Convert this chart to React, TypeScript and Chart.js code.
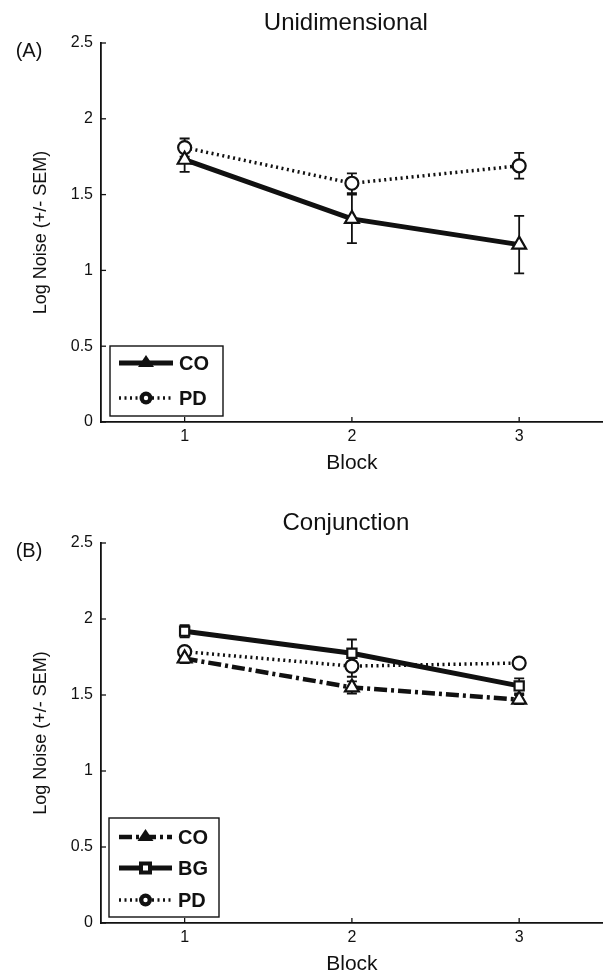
import React, { useEffect, useRef } from 'react';
import { Chart, registerables } from 'chart.js';

Chart.register(...registerables);

// ---------- data ----------
const blocks = [1, 2, 3];
const xTickValues = [1, 2, 3];
const yMin = 0;
const yMax = 2.5;
const yStep = 0.5;

const uniCO = [1.73, 1.34, 1.17];
const uniCOErr = [0.08, 0.16, 0.19];
const uniPD = [1.81, 1.575, 1.69];
const uniPDErr = [0.06, 0.065, 0.085];

const conjCO = [1.74, 1.55, 1.47];
const conjCOErr = [0.03, 0.04, 0.03];
const conjBG = [1.92, 1.775, 1.56];
const conjBGErr = [0.04, 0.09, 0.05];
const conjPD = [1.785, 1.69, 1.71];
const conjPDErr = [0.03, 0.07, 0.03];

// ---------- styles ----------
const FONT = '"Liberation Sans", Arial, Helvetica, sans-serif';
const INK = '#111111';
const W = 605;
const CW = 613; // canvas a bit wider than the page; the overflow is clipped
const H = 487;

type Series = {
  label: string;
  values: number[];
  errors: number[];
  dash: number[];
  width: number;
  pointStyle: 'triangle' | 'circle' | 'rect';
  radius: number;
};

type Panel = {
  title: string;
  tag: string;
  top: number;
  bottom: number;
  series: Series[];
  legendBox: [number, number, number, number];
  legendRows: number[];
  legendLine: [number, number];
  legendText: number;
};

const SOLID: number[] = [];
const DOTTED = [2, 3.5];
const DASHDOT = [13, 4, 3, 4];

const panels: Panel[] = [
  {
    title: 'Unidimensional',
    tag: '(A)',
    top: 43,
    bottom: 422,
    series: [
      { label: 'CO', values: uniCO, errors: uniCOErr, dash: SOLID, width: 5, pointStyle: 'triangle', radius: 8 },
      { label: 'PD', values: uniPD, errors: uniPDErr, dash: DOTTED, width: 3.5, pointStyle: 'circle', radius: 6.5 },
    ],
    legendBox: [110, 346, 223, 416],
    legendRows: [363, 398],
    legendLine: [119, 173],
    legendText: 179,
  },
  {
    title: 'Conjunction',
    tag: '(B)',
    top: 56,
    bottom: 436,
    series: [
      { label: 'CO', values: conjCO, errors: conjCOErr, dash: DASHDOT, width: 4.5, pointStyle: 'triangle', radius: 8 },
      { label: 'BG', values: conjBG, errors: conjBGErr, dash: SOLID, width: 5, pointStyle: 'rect', radius: 6.5 },
      { label: 'PD', values: conjPD, errors: conjPDErr, dash: DOTTED, width: 3.5, pointStyle: 'circle', radius: 6.5 },
    ],
    legendBox: [109, 331, 219, 430],
    legendRows: [350, 381, 413],
    legendLine: [119, 172],
    legendText: 178,
  },
];

function drawLegendMarker(ctx: CanvasRenderingContext2D, style: string, x: number, y: number) {
  ctx.save();
  ctx.setLineDash([]);
  ctx.fillStyle = INK;
  if (style === 'triangle') {
    ctx.beginPath();
    ctx.moveTo(x, y - 8);
    ctx.lineTo(x + 8, y + 4);
    ctx.lineTo(x - 8, y + 4);
    ctx.closePath();
    ctx.fill();
  } else if (style === 'circle') {
    ctx.beginPath();
    ctx.arc(x, y, 6.5, 0, Math.PI * 2);
    ctx.fill();
    ctx.fillStyle = '#fff';
    ctx.beginPath();
    ctx.arc(x, y, 2.2, 0, Math.PI * 2);
    ctx.fill();
  } else {
    ctx.fillRect(x - 6.5, y - 6.5, 13, 13);
    ctx.fillStyle = '#fff';
    ctx.fillRect(x - 2.5, y - 2.5, 5, 5);
  }
  ctx.restore();
}

function makeDecor(p: Panel) {
  return {
    id: 'decor',
    beforeDatasetsDraw(chart: any) {
      const ctx: CanvasRenderingContext2D = chart.ctx;
      const xs = chart.scales.x;
      const ys = chart.scales.y;
      ctx.save();
      ctx.strokeStyle = INK;
      ctx.lineWidth = 1.8;
      ctx.setLineDash([]);
      p.series.forEach((s) => {
        s.values.forEach((v, i) => {
          const e = s.errors[i];
          const x = xs.getPixelForValue(blocks[i]);
          const y1 = ys.getPixelForValue(v - e);
          const y2 = ys.getPixelForValue(v + e);
          ctx.beginPath();
          ctx.moveTo(x, y1);
          ctx.lineTo(x, y2);
          ctx.moveTo(x - 5, y1);
          ctx.lineTo(x + 5, y1);
          ctx.moveTo(x - 5, y2);
          ctx.lineTo(x + 5, y2);
          ctx.stroke();
        });
      });
      ctx.restore();
    },
    afterDraw(chart: any) {
      const ctx: CanvasRenderingContext2D = chart.ctx;
      const xs = chart.scales.x;
      const ys = chart.scales.y;
      const area = chart.chartArea;
      ctx.save();
      // inward ticks
      ctx.strokeStyle = INK;
      ctx.lineWidth = 1.3;
      ctx.setLineDash([]);
      xs.ticks.forEach((t: any) => {
        const x = xs.getPixelForValue(t.value);
        ctx.beginPath();
        ctx.moveTo(x, area.bottom);
        ctx.lineTo(x, area.bottom - 5);
        ctx.stroke();
      });
      ys.ticks.forEach((t: any) => {
        const y = ys.getPixelForValue(t.value);
        ctx.beginPath();
        ctx.moveTo(area.left, y);
        ctx.lineTo(area.left + 5, y);
        ctx.stroke();
      });

      // titles and labels
      const mid = (area.left + area.right) / 2;
      ctx.fillStyle = INK;
      ctx.textAlign = 'center';
      ctx.textBaseline = 'middle';
      ctx.font = `24px ${FONT}`;
      ctx.fillText(p.title, mid - 6, p.top - 20);
      ctx.font = `20px ${FONT}`;
      ctx.fillText(p.tag, 29, p.top + 8);
      ctx.font = `21px ${FONT}`;
      ctx.fillText('Block', mid, area.bottom + 41);
      ctx.save();
      ctx.translate(41, (area.top + area.bottom) / 2);
      ctx.rotate(-Math.PI / 2);
      ctx.font = `18px ${FONT}`;
      ctx.fillText('Log Noise (+/- SEM)', 0, 0);
      ctx.restore();

      // legend
      const [bx0, by0, bx1, by1] = p.legendBox;
      ctx.fillStyle = '#fff';
      ctx.fillRect(bx0, by0, bx1 - bx0, by1 - by0);
      ctx.strokeStyle = INK;
      ctx.lineWidth = 1.4;
      ctx.strokeRect(bx0, by0, bx1 - bx0, by1 - by0);
      p.series.forEach((s, i) => {
        const y = p.legendRows[i];
        const [lx0, lx1] = p.legendLine;
        ctx.save();
        ctx.strokeStyle = INK;
        ctx.lineWidth = s.width;
        ctx.setLineDash(s.dash);
        ctx.beginPath();
        ctx.moveTo(lx0, y);
        ctx.lineTo(lx1, y);
        ctx.stroke();
        ctx.restore();
        drawLegendMarker(ctx, s.pointStyle, (lx0 + lx1) / 2, y);
        ctx.fillStyle = INK;
        ctx.textAlign = 'left';
        ctx.textBaseline = 'middle';
        ctx.font = `bold 20px ${FONT}`;
        ctx.fillText(s.label, p.legendText, y + 1);
      });
      ctx.restore();
    },
  };
}

function PanelChart({ panel }: { panel: Panel }) {
  const ref = useRef<HTMLCanvasElement | null>(null);
  useEffect(() => {
    if (!ref.current) return;
    document.body.style.margin = '0';
    const datasets = panel.series.map((s, i) => ({
      label: s.label,
      data: blocks.map((b, j) => ({ x: b, y: s.values[j] })),
      borderColor: INK,
      borderWidth: s.width,
      borderDash: s.dash,
      pointStyle: s.pointStyle,
      pointRadius: s.radius,
      pointBackgroundColor: '#ffffff',
      pointBorderColor: INK,
      pointBorderWidth: 2.2,
      fill: false,
      tension: 0,
      order: s.dash.length === 0 ? 0 : i + 1,
    }));
    const chart = new Chart(ref.current, {
      type: 'line',
      data: { datasets },
      plugins: [makeDecor(panel)],
      options: {
        animation: false,
        responsive: false,
        maintainAspectRatio: false,
        events: [],
        layout: { padding: { top: panel.top, right: 0, left: 0, bottom: 0 } },
        plugins: { legend: { display: false }, title: { display: false }, tooltip: { enabled: false } },
        scales: {
          x: {
            type: 'linear',
            min: 0.5,
            max: 3.5,
            afterBuildTicks: (s: any) => {
              s.ticks = xTickValues.map((v) => ({ value: v }));
            },
            afterFit: (s: any) => {
              s.height = H - panel.bottom;
            },
            grid: { display: false, drawTicks: false },
            border: { display: true, color: INK, width: 1.8 },
            ticks: {
              color: INK,
              padding: 5,
              font: { family: FONT, size: 16 },
              callback: (v: any) => String(v),
            },
          },
          y: {
            type: 'linear',
            min: yMin,
            max: yMax,
            afterFit: (s: any) => {
              s.width = 101;
            },
            grid: { display: false, drawTicks: false },
            border: { display: true, color: INK, width: 1.8 },
            ticks: {
              stepSize: yStep,
              color: INK,
              padding: 8,
              font: { family: FONT, size: 16 },
              callback: (v: any) => String(v),
            },
          },
        },
      } as any,
    });
    return () => chart.destroy();
  }, [panel]);
  return (
    <div style={{ width: W, height: H, overflow: 'hidden', position: 'relative' }}>
      <div style={{ width: CW, height: H }}>
        <canvas ref={ref} width={CW} height={H} style={{ display: 'block', width: CW, height: H }} />
      </div>
    </div>
  );
}

export default function App() {
  return (
    <div style={{ position: 'absolute', left: 0, top: 0, width: W, height: 974, background: '#fff', overflow: 'hidden' }}>
      {panels.map((p, i) => (
        <PanelChart key={i} panel={p} />
      ))}
    </div>
  );
}
